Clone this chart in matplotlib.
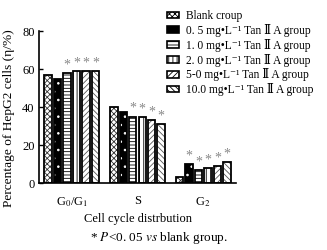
import matplotlib
matplotlib.use('Agg')
import matplotlib.pyplot as plt
import numpy as np
from matplotlib.patches import Patch

plt.rcParams['font.family'] = ['Liberation Serif', 'DejaVu Serif']
plt.rcParams['mathtext.fontset'] = 'stix'
plt.rcParams['hatch.linewidth'] = 0.6

# Data
phases = ['G$_0$/G$_1$', 'S', 'G$_2$']
groups = ['Blank croup',
          '0. 5 mg•L⁻¹ Tan Ⅱ A group',
          '1. 0 mg•L⁻¹ Tan Ⅱ A group',
          '2. 0 mg•L⁻¹ Tan Ⅱ A group',
          '5-0 mg•L⁻¹ Tan Ⅱ A group',
          '10.0 mg•L⁻¹ Tan Ⅱ A group']
blank = [57.0, 40.0, 3.0]
tan_05 = [54.5, 37.5, 10.0]
tan_10 = [57.8, 35.0, 6.8]
tan_20 = [59.0, 34.8, 7.9]
tan_50 = [58.8, 33.0, 8.9]
tan_100 = [59.0, 31.0, 11.0]
values = [blank, tan_05, tan_10, tan_20, tan_50, tan_100]
# significance flags (P<0.05 vs blank), per group per phase
signif = [
    [False, False, False],
    [False, False, True],
    [True, True, True],
    [True, True, True],
    [True, True, True],
    [True, True, True],
]

# fill colour, hatch colour, hatch pattern per group
styles = [
    ('white', '#333333', 'xxxxxx'),
    ('black', 'white', '..'),
    ('white', 'black', '-----'),
    ('white', 'black', '||||'),
    ('white', '#555555', '//////'),
    ('white', '#555555', '\\\\\\\\\\\\'),
]

fig = plt.figure(figsize=(3.27, 2.5), dpi=100)
ax = fig.add_axes([0.119, 0.268, 0.603, 0.608])

x = np.arange(len(phases))
pitch = 0.144
width = 0.112
for i, (vals, (fc, hc, hatch)) in enumerate(zip(values, styles)):
    pos = x + (i - 2.5) * pitch
    ax.bar(pos, vals, width, color=fc, edgecolor=hc, hatch=hatch, linewidth=0)
    ax.bar(pos, vals, width, fill=False, edgecolor='black', linewidth=1.3)
    for p, v, s in zip(pos, vals, signif[i]):
        if s:
            ax.text(p, v + 0.8, '*', ha='center', va='bottom',
                    fontsize=10, color='#888888')

ax.set_xlim(-0.5, 2.5)
ax.set_ylim(0, 80)
ax.set_yticks([0, 20, 40, 60, 80])
ax.set_xticks(x)
ax.set_xticklabels(phases, fontsize=9)
ax.tick_params(axis='y', direction='in', length=3, labelsize=9, width=1, pad=3)
ax.tick_params(axis='x', length=0, pad=9)
for side in ['top', 'right']:
    ax.spines[side].set_visible(False)
ax.spines['left'].set_linewidth(1.2)
ax.spines['bottom'].set_linewidth(1.2)

ax.set_ylabel('Percentage of HepG2 cells (η/%)', fontsize=9.6)
ax.yaxis.set_label_coords(-0.12, 0.43)
ax.set_xlabel('Cell cycle distrbution', fontsize=9, labelpad=3)

handles = [Patch(facecolor=fc, edgecolor='black', hatch=h, linewidth=1.2)
           for fc, hc, h in styles]
leg = fig.legend(handles, groups, loc='upper left',
                 bbox_to_anchor=(0.51, 0.96), frameon=False, fontsize=8.3,
                 handlelength=1.1, handleheight=0.5, handletextpad=0.6,
                 labelspacing=0.16, borderpad=0, borderaxespad=0)

fig.text(0.485, 0.05, '* $P$<0. 05 $vs$ blank group.', ha='center',
         va='center', fontsize=9.5)

fig.savefig('out.png', dpi=100)
